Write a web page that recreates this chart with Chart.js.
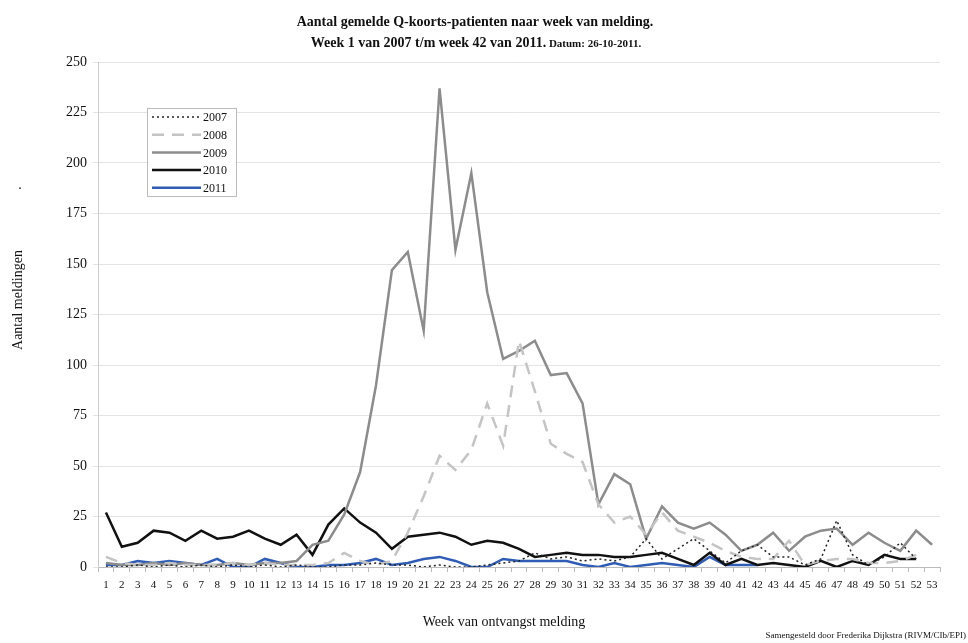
<!DOCTYPE html>
<html>
<head>
<meta charset="utf-8">
<script src="https://cdn.jsdelivr.net/npm/chart.js@4.4.1/dist/chart.umd.min.js"></script>
<style>
  html, body { margin: 0; padding: 0; background: #fff; }
  #wrap { position: relative; width: 968px; height: 643px; }
</style>
</head>
<body>
<div id="wrap"><canvas id="qChart" width="968" height="643"></canvas></div>
<script>
"use strict";

// week numbers on the x axis
var weeks = [];
for (var w = 1; w <= 53; w++) weeks.push(String(w));

// values, per year
var y2007 = [0,0,1,0,1,0,1,0,1,0, 1,0,1,0,0,1,1,2,1,1, 0,1,0,0,1,2,3,7,4,5,
             3,4,3,5,14,4,9,14,8,2, 8,11,5,5,1,4,23,6,1,5,12,4, null];
var y2008 = [5,2,1,1,2,1,1,1,2,1, 2,1,1,1,2,7,3,1,3,17, 35,55,48,58,81,60,112,87,61,56,
             52,31,22,25,16,27,18,15,12,8, 5,4,4,13,1,3,4,4,2,2,3,6, null];
var y2009 = [2,1,1,2,1,2,1,1,2,1, 2,2,3,11,13,26,47,90,147,156, 117,237,157,195,136,103,107,112,95,96,
             81,31,46,41,14,30,22,19,22,16, 8,11,17,8,15,18,19,11,17,12,8,18,11];
var y2010 = [27,10,12,18,17,13,18,14,15,18, 14,11,16,6,21,29,22,17,9,15, 16,17,15,11,13,12,9,5,6,7,
             6,6,5,5,6,7,4,1,7,1, 4,1,2,1,0,3,0,3,1,6,4,4, null];
var y2011 = [1,1,3,2,3,2,1,4,0,0, 4,2,0,0,1,1,2,4,1,2, 4,5,3,0,0,4,3,3,3,3,
             1,0,2,0,1,2,1,0,5,1, 1,1];

var yTicks = [0,25,50,75,100,125,150,175,200,225,250];

var serif = "'Liberation Serif', 'Times New Roman', serif";

// titles, axis titles, footer and the legend box
var textPlugin = {
  id: 'textPlugin',
  afterDraw: function(chart) {
    var ctx = chart.ctx;
    ctx.save();
    ctx.fillStyle = '#111';
    ctx.textBaseline = 'middle';

    ctx.textAlign = 'center';
    ctx.font = 'bold 14px ' + serif;
    ctx.fillText('Aantal gemelde Q-koorts-patienten naar week van melding.', 475, 22);

    var p1 = 'Week 1 van 2007 t/m week 42 van 2011.', p2 = ' Datum: 26-10-2011.';
    ctx.font = 'bold 14px ' + serif;
    var w1 = ctx.measureText(p1).width;
    ctx.font = 'bold 11px ' + serif;
    var w2 = ctx.measureText(p2).width;
    var x0 = 476 - (w1 + w2) / 2;
    ctx.textAlign = 'left';
    ctx.font = 'bold 14px ' + serif;
    ctx.fillText(p1, x0, 43);
    ctx.font = 'bold 11px ' + serif;
    ctx.fillText(p2, x0 + w1, 44);

    ctx.font = '14px ' + serif;
    ctx.textAlign = 'center';
    ctx.fillText('Week van ontvangst melding', 504, 622);

    ctx.save();
    ctx.translate(18, 300);
    ctx.rotate(-Math.PI / 2);
    ctx.fillText('Aantal meldingen', 0, 0);
    ctx.restore();
    ctx.fillText('.', 20, 185);

    ctx.font = '9px ' + serif;
    ctx.textAlign = 'right';
    ctx.fillText('Samengesteld door Frederika Dijkstra (RIVM/CIb/EPI)', 966, 636);

    // legend
    var lx = 147, ly = 108;
    ctx.fillStyle = '#fff';
    ctx.fillRect(lx, ly, 89, 88);
    ctx.strokeStyle = '#bbb';
    ctx.lineWidth = 1;
    ctx.strokeRect(lx + 0.5, ly + 0.5, 89, 88);
    ctx.font = '12px ' + serif;
    ctx.textAlign = 'left';
    chart.data.datasets.forEach(function(ds, i) {
      var yy = 117 + i * 17.7;
      ctx.beginPath();
      ctx.strokeStyle = ds.borderColor;
      ctx.lineWidth = ds.borderWidth;
      ctx.setLineDash(ds.borderDash || []);
      ctx.moveTo(152, yy);
      ctx.lineTo(201, yy);
      ctx.stroke();
      ctx.setLineDash([]);
      ctx.fillStyle = '#111';
      ctx.fillText(ds.label, 203, yy + 1);
    });
    ctx.restore();
  }
};

var ctx = document.getElementById('qChart').getContext('2d');
var qChart = new Chart(ctx, {
  type: 'line',
  data: {
    labels: weeks,
    datasets: [
      { label: '2007', data: y2007, borderColor: '#222', borderWidth: 1.5, borderDash: [2, 3] },
      { label: '2008', data: y2008, borderColor: '#c4c4c4', borderWidth: 2.5, borderDash: [12, 8] },
      { label: '2009', data: y2009, borderColor: '#8c8c8c', borderWidth: 2.5 },
      { label: '2010', data: y2010, borderColor: '#111', borderWidth: 2.5 },
      { label: '2011', data: y2011, borderColor: '#2f5db5', borderWidth: 2.5 }
    ]
  },
  options: {
    responsive: false,
    animation: false,
    spanGaps: false,
    elements: { point: { radius: 0 }, line: { tension: 0 } },
    layout: { padding: { left: 0, top: 62, right: 28, bottom: 0 } },
    plugins: { legend: { display: false }, tooltip: { enabled: false } },
    scales: {
      x: {
        offset: true,
        afterFit: function(scale) { scale.height = 76; },
        grid: { offset: true, drawOnChartArea: false, drawTicks: true, tickLength: 5, color: '#bbb' },
        border: { color: '#bbb' },
        ticks: { autoSkip: false, maxRotation: 0, color: '#111', font: { family: serif, size: 11 }, padding: 7 }
      },
      y: {
        min: 0, max: 250,
        afterFit: function(scale) { scale.width = 98; },
        afterBuildTicks: function(scale) { scale.ticks = yTicks.map(function(v) { return { value: v }; }); },
        grid: { color: '#e4e4e4', tickLength: 5 },
        border: { color: '#ccc' },
        ticks: { color: '#111', font: { family: serif, size: 14 }, padding: 6 }
      }
    }
  },
  plugins: [textPlugin]
});
</script>
</body>
</html>
